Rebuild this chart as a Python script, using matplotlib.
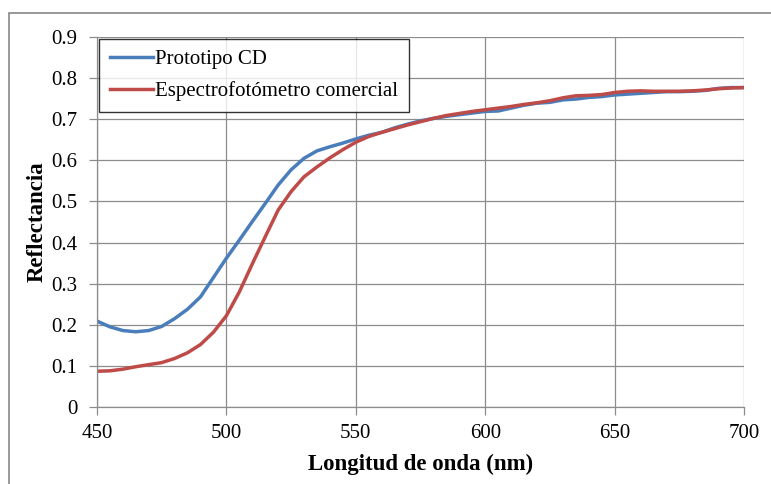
import matplotlib
matplotlib.use("Agg")
import matplotlib.pyplot as plt
from matplotlib.patches import Rectangle

# Longitud de onda (nm)
wavelength = [450, 455, 460, 465, 470, 475, 480, 485, 490, 495,
              500, 505, 510, 515, 520, 525, 530, 535, 540, 545,
              550, 555, 560, 565, 570, 575, 580, 585, 590, 595,
              600, 605, 610, 615, 620, 625, 630, 635, 640, 645,
              650, 655, 660, 665, 670, 675, 680, 685, 690, 695, 700]

prototipo = [0.209, 0.195, 0.186, 0.183, 0.186, 0.196, 0.215, 0.238, 0.268, 0.315,
             0.362, 0.406, 0.451, 0.495, 0.540, 0.577, 0.605, 0.623, 0.633, 0.642,
             0.652, 0.661, 0.668, 0.679, 0.688, 0.696, 0.702, 0.707, 0.711, 0.715,
             0.719, 0.720, 0.727, 0.734, 0.739, 0.741, 0.747, 0.749, 0.753, 0.755,
             0.759, 0.761, 0.763, 0.765, 0.767, 0.767, 0.768, 0.770, 0.775, 0.777, 0.777]

comercial = [0.087, 0.088, 0.092, 0.098, 0.103, 0.108, 0.118, 0.132, 0.152, 0.182,
             0.222, 0.280, 0.348, 0.414, 0.479, 0.524, 0.560, 0.584, 0.606, 0.626,
             0.644, 0.658, 0.668, 0.677, 0.686, 0.694, 0.702, 0.709, 0.714, 0.719,
             0.723, 0.727, 0.731, 0.736, 0.740, 0.745, 0.752, 0.757, 0.758, 0.760,
             0.765, 0.768, 0.769, 0.768, 0.768, 0.768, 0.769, 0.771, 0.774, 0.776, 0.777]

plt.rcParams["font.family"] = ["Liberation Serif", "DejaVu Serif"]

fig = plt.figure(figsize=(7.71, 4.84), dpi=100)
# outer chart border (only top and left visible in the crop)
fig.patches.append(Rectangle((9 / 771, -0.1), 1.2, 1 - 13 / 484 + 0.1,
                             transform=fig.transFigure, fill=False,
                             edgecolor="#888888", linewidth=1.2))

ax = fig.add_axes([97 / 771, 1 - 407 / 484, 647 / 771, 370 / 484])

ax.plot(wavelength, prototipo, color="#4A7EBB", linewidth=2.5, label="Prototipo CD")
ax.plot(wavelength, comercial, color="#BE4B48", linewidth=2.5, label="Espectrofotómetro comercial")

ax.set_xlim(450, 700)
ax.set_ylim(0, 0.9)
ax.set_xticks(range(450, 701, 50))
ax.set_yticks([i / 10 for i in range(10)])
ax.set_yticklabels(["0"] + [f"{i / 10:.1f}" for i in range(1, 10)])

ax.grid(True, color="#8c8c8c", linewidth=0.9)
ax.set_axisbelow(True)
for side in ["top", "right"]:
    ax.spines[side].set_visible(False)
for side in ["left", "bottom"]:
    ax.spines[side].set_color("#8c8c8c")
    ax.spines[side].set_linewidth(0.9)
ax.tick_params(axis="both", colors="#8c8c8c", labelcolor="black",
               labelsize=15, length=6, width=0.9)
ax.tick_params(axis="x", pad=6)
ax.tick_params(axis="y", pad=8)

ax.set_xlabel("Longitud de onda (nm)", fontsize=16.5, fontweight="bold", labelpad=8)
ax.set_ylabel("Reflectancia", fontsize=16.5, fontweight="bold", labelpad=3)

leg = ax.legend(loc="upper left", bbox_to_anchor=(0.0, 1.0), fontsize=15,
                frameon=True, fancybox=False, handlelength=2.1,
                handletextpad=0.1, borderpad=0.5, labelspacing=0.6,
                borderaxespad=0.1)
leg.get_frame().set_edgecolor("black")
leg.get_frame().set_linewidth(1.0)

fig.savefig("out.png", dpi=100)
